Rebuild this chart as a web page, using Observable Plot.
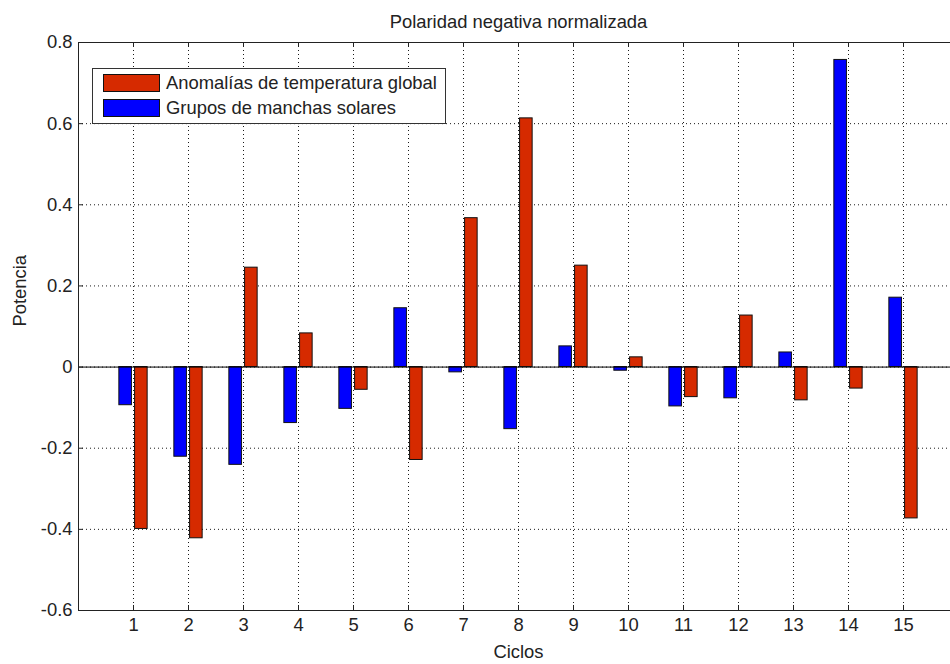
<!DOCTYPE html>
<html>
<head>
<meta charset="utf-8">
<script src="https://cdn.jsdelivr.net/npm/d3@7"></script>
<script src="https://cdn.jsdelivr.net/npm/@observablehq/plot@0.6"></script>
<style>
  html, body { margin: 0; padding: 0; background: #fff; overflow: hidden; }
  #wrap { position: relative; width: 950px; height: 664px; overflow: hidden; font-family: "Liberation Sans", Arial, sans-serif; }
  #legend { position: absolute; left: 92px; top: 68px; width: 354px; height: 56px; border: 1px solid #333; background: #fff; box-sizing: border-box; }
  .row { position: absolute; left: 10px; height: 18px; display: flex; align-items: center; font-size: 18.4px; color: #222; white-space: nowrap; }
  .sw { width: 57px; height: 18px; border: 1px solid #111; box-sizing: border-box; margin-right: 6px; flex: none; }
</style>
</head>
<body>
<div id="wrap"></div>
<script>
const cycles = [1,2,3,4,5,6,7,8,9,10,11,12,13,14,15];
const manchas = [-0.094,-0.221,-0.241,-0.138,-0.103,0.145,-0.013,-0.153,0.051,-0.009,-0.097,-0.077,0.036,0.757,0.171];
const temperatura = [-0.399,-0.422,0.245,0.083,-0.056,-0.229,0.367,0.613,0.250,0.024,-0.074,0.127,-0.082,-0.053,-0.373];
const seriesNames = ["Anomalías de temperatura global", "Grupos de manchas solares"];
const seriesColors = ["#d62a00", "#0000ff"];
const yTicks = [-0.6,-0.4,-0.2,0,0.2,0.4,0.6,0.8];
const title = "Polaridad negativa normalizada";
const xLabel = "Ciclos";
const yLabel = "Potencia";

const barW = 0.2286; // bar width in x units (MATLAB grouped bar)
const off = 0.1429;
const data = [];
cycles.forEach((c, i) => {
  data.push({cycle: c, value: manchas[i], series: seriesNames[1], x1: c - off - barW/2, x2: c - off + barW/2});
  data.push({cycle: c, value: temperatura[i], series: seriesNames[0], x1: c + off - barW/2, x2: c + off + barW/2});
});

const fmt = d => String(Math.round(d * 10) / 10);
const tickLenX = 5 / 405.7;
const tickLenY = 5 / 55;
const FS = 18.4;

const chart = Plot.plot({
  width: 950,
  height: 664,
  marginLeft: 78,
  marginTop: 42,
  marginBottom: 54,
  marginRight: -8,
  style: {fontFamily: "'Liberation Sans', Arial, sans-serif", fontSize: FS + "px", color: "#222", background: "#fff", overflow: "visible"},
  x: {domain: [0, 16]},
  y: {domain: [-0.6, 0.8]},
  color: {domain: seriesNames, range: seriesColors},
  marks: [
    Plot.gridX(cycles, {stroke: "#000", strokeOpacity: 0.9, strokeDasharray: "1,3"}),
    Plot.gridY(yTicks, {stroke: "#000", strokeOpacity: 0.9, strokeDasharray: "1,3"}),
    Plot.rectY(data, {x1: "x1", x2: "x2", y: "value", fill: "series", stroke: "#111", strokeWidth: 1}),
    Plot.ruleY([0], {stroke: "#000", strokeWidth: 1}),
    Plot.ruleX(cycles, {x: d => d, y1: -0.6, y2: -0.6 + tickLenX, stroke: "#222"}),
    Plot.ruleX(cycles, {x: d => d, y1: 0.8, y2: 0.8 - tickLenX, stroke: "#222"}),
    Plot.ruleY(yTicks, {y: d => d, x1: 0, x2: tickLenY, stroke: "#222"}),
    Plot.frame({stroke: "#222", strokeWidth: 1}),
    Plot.axisX(cycles, {tickSize: 0, tickPadding: 7, label: null, fontSize: FS, tickFormat: d => String(d)}),
    Plot.axisY(yTicks, {tickSize: 0, tickPadding: 6, label: null, fontSize: FS, tickFormat: fmt}),
    Plot.text([title], {frameAnchor: "top", lineAnchor: "top", dy: -28, fontSize: FS}),
    Plot.text([xLabel], {frameAnchor: "bottom", lineAnchor: "top", dy: 34, fontSize: FS}),
    Plot.text([yLabel], {frameAnchor: "left", dx: -58, rotate: -90, fontSize: FS})
  ]
});

const wrap = document.getElementById("wrap");
wrap.appendChild(chart);

const legend = document.createElement("div");
legend.id = "legend";
seriesNames.forEach((name, i) => {
  const row = document.createElement("div");
  row.className = "row";
  row.style.top = (i === 0 ? 5 : 30) + "px";
  const sw = document.createElement("div");
  sw.className = "sw";
  sw.style.background = seriesColors[i];
  row.appendChild(sw);
  const t = document.createElement("span");
  t.textContent = name;
  row.appendChild(t);
  legend.appendChild(row);
});
wrap.appendChild(legend);
</script>
</body>
</html>
